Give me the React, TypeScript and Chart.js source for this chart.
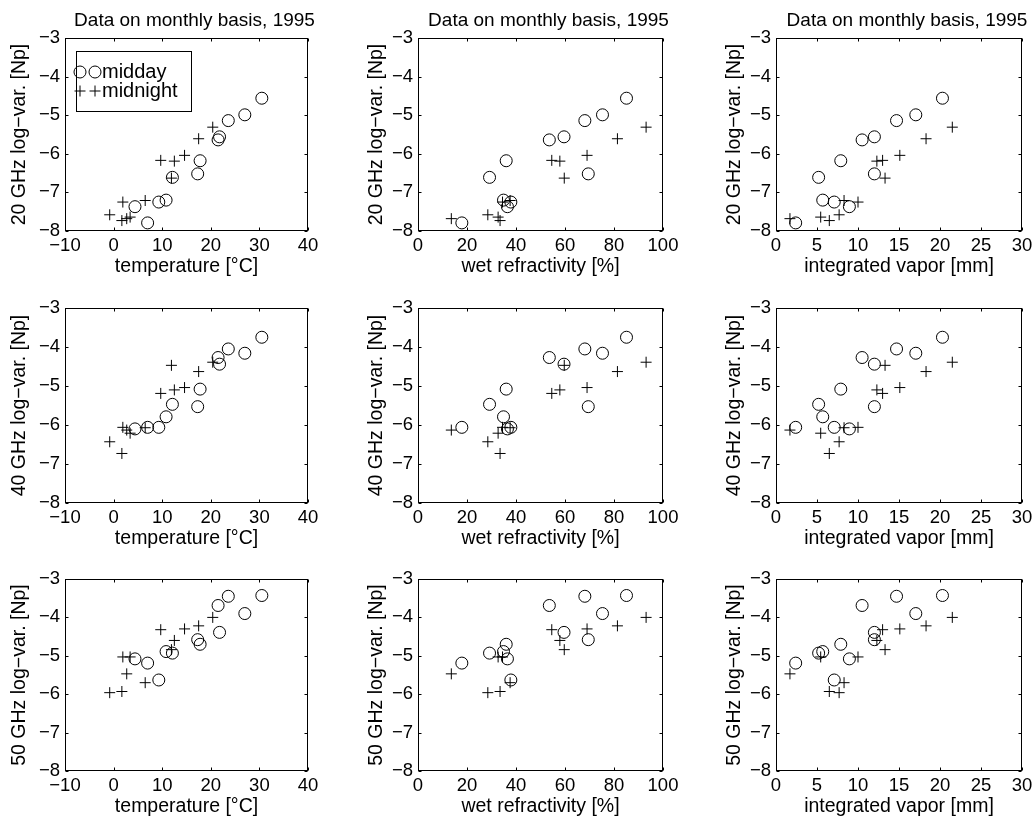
import React, { useEffect, useRef } from 'react';
import { Chart, registerables } from 'chart.js';

Chart.register(...registerables);

const FONT = '"Liberation Sans", Arial, Helvetica, sans-serif';

// ---------- data (12 monthly values, 1995) ----------
const temperatureMidday = [4.4, 7.0, 9.3, 10.8, 12.1, 17.3, 17.8, 21.5, 21.8, 23.6, 27.0, 30.5];
const wetRefractivityMidday = [36.5, 17.9, 37.9, 34.9, 29.2, 69.5, 36.0, 53.6, 59.6, 68.1, 75.3, 85.1];
const vaporMidday = [8.95, 2.4, 7.1, 5.7, 5.2, 12.0, 7.9, 10.5, 12.0, 14.7, 17.05, 20.3];
const logVar20Midday = [-7.37, -7.79, -7.25, -7.2, -6.61, -6.52, -6.18, -5.64, -5.56, -5.14, -4.99, -4.56];
const logVar40Midday = [-6.1, -6.06, -6.06, -5.79, -5.47, -5.53, -5.08, -4.27, -4.44, -4.05, -4.16, -3.75];
const logVar50Midday = [-5.08, -5.19, -5.63, -4.89, -4.93, -4.58, -4.7, -3.69, -4.39, -3.45, -3.9, -3.43];

const temperatureMidnight = [-0.8, 1.7, 1.9, 2.7, 3.4, 6.5, 9.7, 11.9, 12.5, 14.6, 17.5, 20.4];
const wetRefractivityMidnight = [28.5, 33.5, 34.5, 13.6, 32.7, 37.6, 54.6, 59.7, 57.9, 69.0, 81.4, 93.1];
const vaporMidnight = [7.7, 6.5, 10.0, 1.7, 5.45, 8.3, 13.0, 13.3, 12.3, 15.1, 18.3, 21.5];
const logVar20Midnight = [-7.58, -7.73, -7.25, -7.68, -7.64, -7.21, -6.17, -6.63, -6.19, -6.04, -5.61, -5.31];
const logVar40Midnight = [-6.43, -6.73, -6.06, -6.13, -6.21, -6.07, -5.19, -4.47, -5.1, -5.04, -4.63, -4.39];
const logVar50Midnight = [-5.96, -5.93, -5.03, -5.47, -5.03, -5.7, -4.32, -4.84, -4.6, -4.3, -4.22, -4.0];

// ---------- tick labels ----------
const temperatureTicks = [-10, 0, 10, 20, 30, 40];
const wetRefractivityTicks = [0, 20, 40, 60, 80, 100];
const vaporTicks = [0, 5, 10, 15, 20, 25, 30];
const logVarTicks = [-8, -7, -6, -5, -4, -3];

const seriesLabels = ['midday', 'midnight'];
const titleText = 'Data on monthly basis, 1995';

const columns = [
  { label: 'temperature [°C]', ticks: temperatureTicks, midday: temperatureMidday, midnight: temperatureMidnight },
  { label: 'wet refractivity [%]', ticks: wetRefractivityTicks, midday: wetRefractivityMidday, midnight: wetRefractivityMidnight },
  { label: 'integrated vapor [mm]', ticks: vaporTicks, midday: vaporMidday, midnight: vaporMidnight },
];
const rows = [
  { label: '20 GHz log−var. [Np]', midday: logVar20Midday, midnight: logVar20Midnight },
  { label: '40 GHz log−var. [Np]', midday: logVar40Midday, midnight: logVar40Midnight },
  { label: '50 GHz log−var. [Np]', midday: logVar50Midday, midnight: logVar50Midnight },
];

// ---------- layout ----------
const ROW_TOP = [38, 308, 579];
const ROW_BOTTOM = [231, 503, 771];
const COL_LEFT = [65, 418, 776];
const COL_RIGHT = [308, 663, 1022];
const Y_AXIS_W = 65;
const RIGHT_W = 81;
const X_AXIS_H = 50;
const Y_TITLE_GAP = [45, 41, 41];
const TICK_LEN = 3;
const TICK_FONT = 18.5;
const AXIS_FONT = 19.5;
const TITLE_FONT = 19;
const LEGEND_FONT = 20;

const minus = (v: number | string) => String(v).replace('-', '−');

const framePlugin = {
  id: 'matlabFrame',
  afterDraw(chart: any) {
    const { ctx, chartArea: a } = chart;
    const xs = chart.scales.x;
    const ys = chart.scales.y;
    const L = Math.round(a.left) + 0.5;
    const R = Math.round(a.right) - 0.5;
    const T = Math.round(a.top) + 0.5;
    const B = Math.round(a.bottom) - 0.5;
    ctx.save();
    ctx.strokeStyle = '#000';
    ctx.lineWidth = 1;
    ctx.strokeRect(L, T, R - L, B - T);
    ctx.beginPath();
    xs.ticks.forEach((t: any) => {
      const p = Math.round(xs.getPixelForValue(t.value)) + 0.5;
      ctx.moveTo(p, B);
      ctx.lineTo(p, B - TICK_LEN);
      ctx.moveTo(p, T);
      ctx.lineTo(p, T + TICK_LEN);
    });
    ys.ticks.forEach((t: any) => {
      const p = Math.round(ys.getPixelForValue(t.value)) + 0.5;
      ctx.moveTo(L, p);
      ctx.lineTo(L + TICK_LEN, p);
      ctx.moveTo(R, p);
      ctx.lineTo(R - TICK_LEN, p);
    });
    ctx.stroke();
    ctx.restore();
  },
};

function drawMarker(ctx: CanvasRenderingContext2D, style: string, x: number, y: number, r: number) {
  ctx.beginPath();
  if (style === 'circle') {
    ctx.arc(x, y, r, 0, Math.PI * 2);
  } else {
    ctx.moveTo(x - r, y);
    ctx.lineTo(x + r, y);
    ctx.moveTo(x, y - r);
    ctx.lineTo(x, y + r);
  }
  ctx.stroke();
}

const legendPlugin = {
  id: 'matlabLegend',
  afterDraw(chart: any) {
    const { ctx, chartArea } = chart;
    const x0 = Math.round(chartArea.left + 11);
    const y0 = Math.round(chartArea.top + 13);
    const w = 115;
    const h = 60;
    ctx.save();
    ctx.fillStyle = '#fff';
    ctx.fillRect(x0, y0, w, h);
    ctx.strokeStyle = '#000';
    ctx.lineWidth = 1;
    ctx.strokeRect(x0 + 0.5, y0 + 0.5, w, h);
    chart.data.datasets.forEach((ds: any, i: number) => {
      const cy = y0 + 21 + i * 19;
      ctx.strokeStyle = '#000';
      ctx.lineWidth = 1;
      [x0 + 4, x0 + 19].forEach((mx) => drawMarker(ctx, ds.pointStyle, mx, cy, ds.pointRadius));
      ctx.fillStyle = '#000';
      ctx.font = `${LEGEND_FONT}px ${FONT}`;
      ctx.textBaseline = 'middle';
      ctx.textAlign = 'left';
      ctx.fillText(ds.label, x0 + 26, cy);
    });
    ctx.restore();
  },
};

function geometry(r: number, c: number) {
  const topSpace = r === 0 ? 38 : 30;
  const plotW = COL_RIGHT[c] - COL_LEFT[c];
  const plotH = ROW_BOTTOM[r] - ROW_TOP[r];
  return {
    left: COL_LEFT[c] - Y_AXIS_W,
    top: ROW_TOP[r] - topSpace,
    w: Y_AXIS_W + plotW + RIGHT_W,
    h: topSpace + plotH + X_AXIS_H,
    topSpace,
  };
}

function Panel({ r, c }: { r: number; c: number }) {
  const ref = useRef<HTMLCanvasElement>(null);
  const g = geometry(r, c);
  useEffect(() => {
    const col = columns[c];
    const row = rows[r];
    const axisLH = AXIS_FONT * 1.2;
    const tickLH = TICK_FONT * 1.2;
    const titleLH = TITLE_FONT * 1.2;
    const chart = new Chart(ref.current as HTMLCanvasElement, {
      type: 'scatter',
      data: {
        datasets: [
          {
            label: seriesLabels[0],
            data: col.midday.map((x, i) => ({ x, y: row.midday[i] })),
            pointStyle: 'circle',
            pointRadius: 6,
            pointBorderWidth: 1,
            pointBorderColor: '#000',
            pointBackgroundColor: 'rgba(0,0,0,0)',
            showLine: false,
            clip: false,
          } as any,
          {
            label: seriesLabels[1],
            data: col.midnight.map((x, i) => ({ x, y: row.midnight[i] })),
            pointStyle: 'cross',
            pointRadius: 5.5,
            pointBorderWidth: 1,
            pointBorderColor: '#000',
            pointBackgroundColor: 'rgba(0,0,0,0)',
            showLine: false,
            clip: false,
          } as any,
        ],
      },
      options: {
        animation: false,
        responsive: false,
        devicePixelRatio: 1,
        events: [],
        layout: { padding: { top: r === 0 ? 0 : g.topSpace, left: 0, right: 0, bottom: 0 } },
        plugins: {
          legend: { display: false },
          tooltip: { enabled: false },
          title: {
            display: r === 0,
            text: titleText,
            color: '#000',
            fullSize: true,
            font: { family: FONT, size: TITLE_FONT, weight: 'normal', lineHeight: 1.2 },
            padding: { top: 21 - titleLH / 2, bottom: 38 - titleLH - (21 - titleLH / 2) },
          },
        },
        scales: {
          x: {
            type: 'linear',
            position: 'bottom',
            min: col.ticks[0],
            max: col.ticks[col.ticks.length - 1],
            afterBuildTicks: (s: any) => {
              s.ticks = col.ticks.map((v) => ({ value: v }));
            },
            afterFit: (s: any) => {
              s.height = X_AXIS_H;
            },
            grid: { display: false, drawTicks: false },
            border: { display: false },
            ticks: {
              autoSkip: false,
              maxRotation: 0,
              padding: 14.5 - tickLH / 2,
              color: '#000',
              font: { family: FONT, size: TICK_FONT, lineHeight: 1.2 },
              callback: (v: any) => minus(v),
            },
            title: {
              display: true,
              text: col.label,
              color: '#000',
              font: { family: FONT, size: AXIS_FONT, lineHeight: 1.2 },
              padding: { top: 0, bottom: X_AXIS_H - 36 - axisLH / 2 },
            },
          },
          y: {
            type: 'linear',
            position: 'left',
            min: logVarTicks[0],
            max: logVarTicks[logVarTicks.length - 1],
            afterBuildTicks: (s: any) => {
              s.ticks = logVarTicks.map((v) => ({ value: v }));
            },
            afterFit: (s: any) => {
              s.width = Y_AXIS_W;
            },
            grid: { display: false, drawTicks: false },
            border: { display: false },
            ticks: {
              autoSkip: false,
              padding: 5,
              color: '#000',
              font: { family: FONT, size: TICK_FONT, lineHeight: 1.2 },
              callback: (v: any) => minus(v),
            },
            title: {
              display: true,
              text: row.label,
              color: '#000',
              font: { family: FONT, size: AXIS_FONT, lineHeight: 1.2 },
              padding: { top: Y_AXIS_W - Y_TITLE_GAP[c] - axisLH / 2, bottom: 0 },
            },
          },
          yRightSpace: {
            type: 'linear',
            position: 'right',
            display: true,
            afterFit: (s: any) => {
              s.width = RIGHT_W;
            },
            grid: { display: false, drawTicks: false },
            border: { display: false },
            ticks: { display: false },
            title: { display: false },
          },
        },
      } as any,
      plugins: r === 0 && c === 0 ? [framePlugin, legendPlugin] : [framePlugin],
    });
    return () => chart.destroy();
  }, [r, c]);
  return (
    <canvas
      ref={ref}
      width={g.w}
      height={g.h}
      style={{ position: 'absolute', left: g.left, top: g.top, width: g.w, height: g.h }}
    />
  );
}

export default function App() {
  const panels: React.ReactNode[] = [];
  for (let r = 0; r < 3; r++) {
    for (let c = 0; c < 3; c++) {
      panels.push(<Panel key={`${r}-${c}`} r={r} c={c} />);
    }
  }
  return (
    <div
      style={{
        position: 'absolute',
        left: 0,
        top: 0,
        width: 1036,
        height: 825,
        overflow: 'hidden',
        background: '#fff',
      }}
    >
      {panels}
    </div>
  );
}
